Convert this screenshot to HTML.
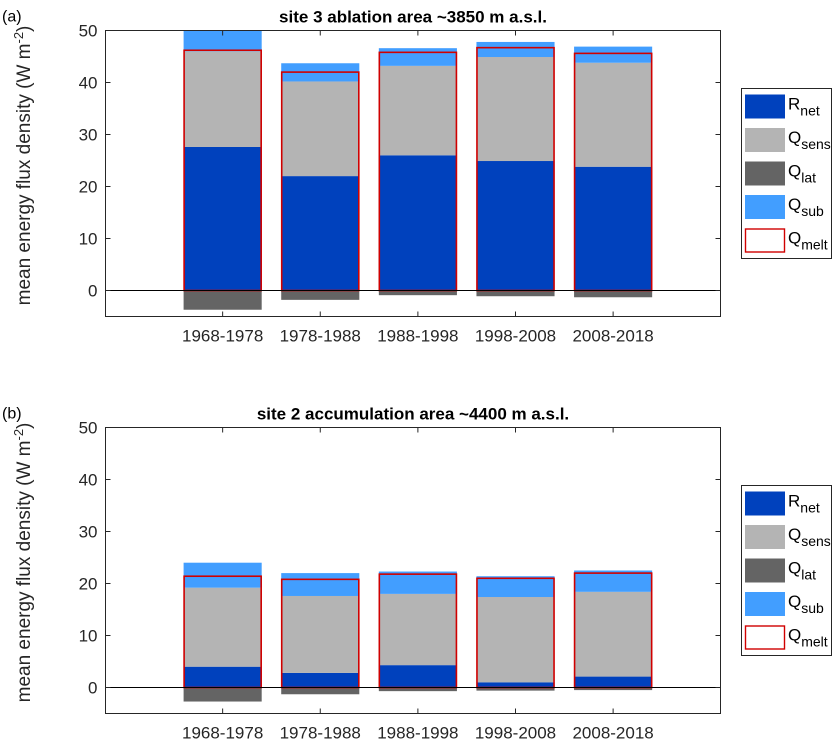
<!DOCTYPE html>
<html><head><meta charset="utf-8"><style>
body{margin:0;background:#fff;}
svg{display:block;font-family:"Liberation Sans",sans-serif;}
</style></head><body>
<svg id="chart" width="834" height="742" viewBox="0 0 834 742" xmlns="http://www.w3.org/2000/svg"></svg>
<script>
const categories=["1968-1978","1978-1988","1988-1998","1998-2008","2008-2018"];
const yTicks=[0,10,20,30,40,50];
const rnetA=[27.6,22.0,26.0,24.9,23.8];
const qsensA=[18.4,18.2,17.2,20.0,20.0];
const qsubA=[4.0,3.5,3.4,2.9,3.1];
const qlatA=[-3.7,-1.8,-0.9,-1.1,-1.3];
const qmeltA=[46.2,42.0,45.8,46.7,45.6];
const rnetB=[4.0,2.8,4.3,1.0,2.1];
const qsensB=[15.2,14.8,13.7,16.4,16.3];
const qsubB=[4.8,4.4,4.3,4.0,4.1];
const qlatB=[-2.7,-1.3,-0.7,-0.6,-0.5];
const qmeltB=[21.4,20.8,21.8,21.0,22.0];

const NS="http://www.w3.org/2000/svg";
const svg=document.getElementById('chart');
function mk(tag,attrs,parent){const e=document.createElementNS(NS,tag);for(const k in attrs)e.setAttribute(k,attrs[k]);(parent||svg).appendChild(e);return e;}
const C={rnet:"#0041bd",qsens:"#b4b4b4",qlat:"#646464",qsub:"#429eff"};

function panel(top,label,title,rnet,qsens,qsub,qlat,qmelt,id){
  const L=105.5,R=720.5,T=top,B=top+286;
  const ppu=260/50;
  const y0=T+260;
  const ys=v=>y0-v*ppu;
  const xs=i=>L+(i+1+0.2)*(R-L)/6.3;
  const bw=0.8*(R-L)/6.3;
  const g=mk('g',{});
  
  
  mk('rect',{x:L,y:T,width:R-L,height:B-T,fill:'#fff',stroke:'none'},g);
  categories.forEach((c,i)=>{
    const x=xs(i)-bw/2;
    const segs=[["rnet",0,rnet[i]],["qsens",rnet[i],rnet[i]+qsens[i]],["qsub",rnet[i]+qsens[i],rnet[i]+qsens[i]+qsub[i]],["qlat",qlat[i],0]];
    segs.forEach(s=>{
      const r=mk('rect',{x:x,y:ys(s[2]),width:bw,height:ys(s[1])-ys(s[2]),fill:C[s[0]]},g);
      
      
    });
    const m=mk('rect',{x:x+0.5,y:ys(qmelt[i]),width:bw-1,height:ys(0)-ys(qmelt[i]),fill:'none',stroke:'#d00000','stroke-width':1.6},g);
    
    
    const t=mk('text',{x:xs(i),y:B+25,'text-anchor':'middle','font-size':17,fill:'#262626'},g);
    t.textContent=c;
    
    
    mk('line',{x1:xs(i),x2:xs(i),y1:T,y2:T+5,stroke:'#262626'},g);
    mk('line',{x1:xs(i),x2:xs(i),y1:B,y2:B-5,stroke:'#262626'},g);
  });
  mk('line',{x1:L,x2:R,y1:ys(0),y2:ys(0),stroke:'#000','stroke-width':1},g);
  yTicks.forEach(v=>{
    mk('line',{x1:L,x2:L+5,y1:ys(v),y2:ys(v),stroke:'#262626'},g);
    mk('line',{x1:R,x2:R-5,y1:ys(v),y2:ys(v),stroke:'#262626'},g);
    const t=mk('text',{x:L-8,y:ys(v)+6,'text-anchor':'end','font-size':17,fill:'#262626'},g);
    t.textContent=v;
    
    
  });
  mk('rect',{x:L,y:T,width:R-L,height:B-T,fill:'none',stroke:'#262626','stroke-width':1},g);
  const tt=mk('text',{x:(L+R)/2,y:T-8,'text-anchor':'middle','font-size':17,'font-weight':'bold',fill:'#000'},g);
  tt.textContent=title;
  
  
  const pl=mk('text',{x:2,y:T-9,'font-size':16,fill:'#000'},g);
  pl.textContent=label;
  
  
  const yl=mk('text',{transform:`translate(30,${(T+B)/2-8}) rotate(-90)`,'text-anchor':'middle','font-size':19,fill:'#262626'},g);
  yl.innerHTML='mean energy flux density  (W m<tspan dy="-7" font-size="13">-2</tspan><tspan dy="7">)</tspan>';
  
  
  const lg=mk('g',{},g);
  
  
  const LT=T+58;
  mk('rect',{x:741.5,y:LT,width:90,height:170,fill:'#fff',stroke:'#262626'},lg);
  const ents=[["R","net","rnet"],["Q","sens","qsens"],["Q","lat","qlat"],["Q","sub","qsub"],["Q","melt","qmelt"]];
  ents.forEach((e,k)=>{
    const yy=LT+6+k*33.5;
    if(e[2]==="qmelt") mk('rect',{x:745.5,y:yy+0.5,width:39,height:23,fill:'#fff',stroke:'#d00000','stroke-width':1.4},lg);
    else mk('rect',{x:745,y:yy,width:40,height:24,fill:C[e[2]]},lg);
    const t=mk('text',{x:788,y:yy+15,'font-size':17,fill:'#000'},lg);
    t.innerHTML=e[0]+'<tspan dy="6" font-size="14">'+e[1]+'</tspan>';
    
    
  });
}
panel(30.5,"(a)","site 3 ablation area ~3850 m a.s.l.",rnetA,qsensA,qsubA,qlatA,qmeltA,"site3");
panel(427.5,"(b)","site 2 accumulation area ~4400 m a.s.l.",rnetB,qsensB,qsubB,qlatB,qmeltB,"site2");
</script>
</body></html>
